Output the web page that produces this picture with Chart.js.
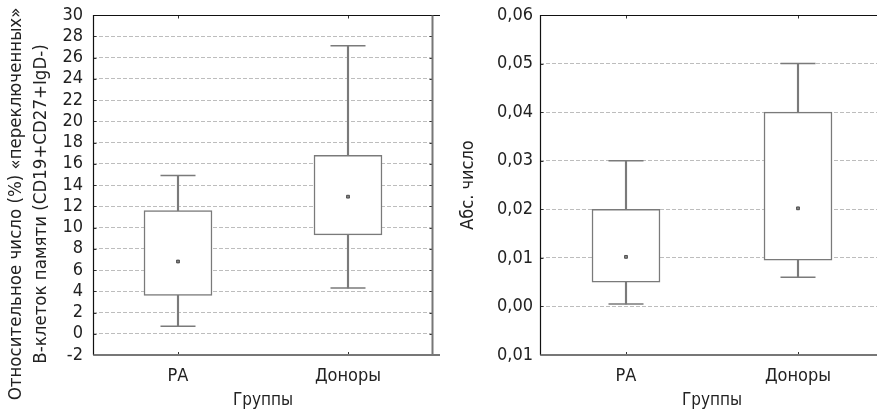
<!DOCTYPE html>
<html>
<head>
<meta charset="utf-8">
<script src="https://cdn.jsdelivr.net/npm/chart.js@4.4.0/dist/chart.umd.min.js"></script>
<style>
  html, body { margin: 0; padding: 0; background: #fff; overflow: hidden; width: 877px; height: 412px; }
  #left { position: absolute; left: 0; top: 0; }
  #right { position: absolute; left: 440px; top: 0; }
</style>
</head>
<body>
<canvas id="left" width="440" height="412" style="width:440px;height:412px"></canvas>
<canvas id="right" width="450" height="412" style="width:450px;height:412px"></canvas>
<script>
var groups = ['РА', 'Доноры'];

// relative number (%) of switched memory B cells
var relMin  = [0.7, 4.3];
var relQ1   = [3.6, 9.3];
var relMean = [6.8, 12.9];
var relQ3   = [11.6, 16.8];
var relMax  = [14.9, 27.1];
var relTickLabels = ['-2','0','2','4','6','8','10','12','14','16','18','20','22','24','26','28','30'];
var relTitle = ['Относительное число (%) «переключенных»', 'В-клеток памяти (CD19+CD27+IgD-)'];

// absolute number
var absMin  = [0.0005, 0.006];
var absQ1   = [0.005, 0.0095];
var absMean = [0.0102, 0.0202];
var absQ3   = [0.02, 0.04];
var absMax  = [0.03, 0.05];
var absTickLabels = ['0,01','0,00','0,01','0,02','0,03','0,04','0,05','0,06'];
var absTitle = 'Абс. число';

var FONT = "'Liberation Sans Narrow', 'DejaVu Sans Condensed', sans-serif";
var TEXT = '#222';
var LINE = '#7a7a7a';
var NONE = 'rgba(0,0,0,0)';

var framePlugin = {
  id: 'frame',
  afterDraw: function(chart, args, opts) {
    var a = chart.chartArea, ctx = chart.ctx;
    var l = Math.round(a.left) + 0.5, r = Math.round(a.right) - 0.5;
    var t = Math.round(a.top) + 0.5, b = Math.round(a.bottom);
    ctx.save();
    // small inward tick marks
    ctx.strokeStyle = '#333';
    ctx.lineWidth = 1;
    var y = chart.scales.y;
    y.ticks.forEach(function(tk, i) {
      var py = Math.round(y.getPixelForTick(i)) + 0.5;
      ctx.beginPath();
      ctx.moveTo(l, py); ctx.lineTo(l + 3, py);
      if (opts.right) { ctx.moveTo(r, py); ctx.lineTo(r - 3, py); }
      ctx.stroke();
    });
    var x = chart.scales.x;
    x.ticks.forEach(function(tk, i) {
      var px = Math.round(x.getPixelForTick(i)) + 0.5;
      ctx.beginPath();
      ctx.moveTo(px, t); ctx.lineTo(px, t + 3);
      ctx.moveTo(px, b); ctx.lineTo(px, b - 3);
      ctx.stroke();
    });
    // top and left borders
    ctx.strokeStyle = '#111';
    ctx.lineWidth = 1.2;
    ctx.beginPath();
    ctx.moveTo(l, b); ctx.lineTo(l, t); ctx.lineTo(a.right + 8, t);
    ctx.stroke();
    // bottom and right borders
    ctx.strokeStyle = '#777';
    ctx.lineWidth = 2;
    ctx.beginPath();
    ctx.moveTo(l, b); ctx.lineTo(a.right + 8, b);
    if (opts.right) { ctx.moveTo(r, t); ctx.lineTo(r, b); }
    ctx.stroke();

    // two-line side title, a bit below the plot centre as in the original
    if (opts.sideTitle) {
      ctx.fillStyle = TEXT;
      ctx.font = opts.sideSize + 'px ' + FONT;
      ctx.textAlign = 'center';
      ctx.textBaseline = 'middle';
      opts.sideTitle.forEach(function(line, i) {
        ctx.save();
        ctx.translate(opts.sideX[i], opts.sideY);
        ctx.rotate(-Math.PI / 2);
        ctx.fillText(line, 0, 0);
        ctx.restore();
      });
    }
    ctx.restore();
  }
};

function boxDatasets(mins, q1, means, q3, maxs, capRadius) {
  return [
    {
      type: 'bar',
      data: q1.map(function(v, i) { return [v, q3[i]]; }),
      backgroundColor: '#fff',
      borderColor: LINE,
      borderWidth: 1.5,
      borderSkipped: false,
      barThickness: 68,
      grouped: false,
      order: 1
    },
    {
      type: 'bar',
      data: mins.map(function(v, i) { return [v, maxs[i]]; }),
      backgroundColor: LINE,
      borderWidth: 0,
      barThickness: 1.5,
      grouped: false,
      order: 2
    },
    {
      type: 'line',
      data: mins,
      showLine: false,
      pointStyle: 'line',
      pointRadius: capRadius,
      pointBorderColor: LINE,
      pointBorderWidth: 1.5,
      order: 0
    },
    {
      type: 'line',
      data: maxs,
      showLine: false,
      pointStyle: 'line',
      pointRadius: capRadius,
      pointBorderColor: LINE,
      pointBorderWidth: 1.5,
      order: 0
    },
    {
      type: 'line',
      data: means,
      showLine: false,
      pointStyle: 'rect',
      pointRadius: 2,
      pointBackgroundColor: '#888',
      pointBorderColor: '#333',
      pointBorderWidth: 0.8,
      order: 0
    }
  ];
}

function makeChart(id, datasets, yOpts) {
  var nTicks = yOpts.labels.length;
  return new Chart(document.getElementById(id), {
    type: 'bar',
    data: { labels: groups, datasets: datasets },
    plugins: [framePlugin],
    options: {
      responsive: false,
      animation: false,
      events: [],
      // the wide cap points would otherwise add automatic padding
      layout: { autoPadding: false, padding: yOpts.padding },
      plugins: {
        legend: { display: false },
        tooltip: { enabled: false },
        frame: yOpts.frame
      },
      scales: {
        x: {
          grid: { display: false, drawTicks: true, tickLength: 11, tickColor: NONE },
          border: { display: false },
          ticks: { color: TEXT, padding: 0, font: { family: FONT, size: 18 } },
          title: {
            display: true, text: 'Группы', color: TEXT,
            font: { family: FONT, size: 17, lineHeight: 1.25 },
            padding: { top: 0, bottom: 1 }
          },
          afterFit: function(s) { s.height = 57; }
        },
        y: {
          min: yOpts.min,
          max: yOpts.max,
          grid: {
            drawTicks: true,
            tickLength: yOpts.tickPad,
            tickColor: NONE,
            lineWidth: 1,
            color: function(c) {
              return (c.index === 0 || c.index === nTicks - 1) ? NONE : '#bdbdbd';
            }
          },
          border: { display: false, dash: [4, 2] },
          ticks: {
            stepSize: yOpts.step,
            autoSkip: false,
            padding: 0,
            color: TEXT,
            font: { family: FONT, size: 18 },
            callback: function(v, i) { return yOpts.labels[i]; }
          },
          title: {
            display: !!yOpts.title, text: yOpts.title || '', color: TEXT,
            font: { family: FONT, size: 18, lineHeight: 1.3 },
            padding: { top: yOpts.titlePad, bottom: 0 }
          },
          afterFit: function(s) { s.width = yOpts.width; }
        }
      }
    }
  });
}

makeChart('left',
  boxDatasets(relMin, relQ1, relMean, relQ3, relMax, 17.5),
  {
    min: -2, max: 30, step: 2, labels: relTickLabels,
    title: null,
    width: 93, tickPad: 10, titlePad: 0,
    frame: { right: true, sideTitle: relTitle, sideX: [16, 41], sideY: 204, sideSize: 18.5 },
    padding: { left: 0, right: 7, top: 15, bottom: 0 }
  });

makeChart('right',
  boxDatasets(absMin, absQ1, absMean, absQ3, absMax, 17.5),
  {
    min: -0.01, max: 0.06, step: 0.01, labels: absTickLabels,
    title: absTitle,
    width: 100, tickPad: 7, titlePad: 17,
    frame: { right: false },
    padding: { left: 0, right: 6, top: 15, bottom: 0 }
  });
</script>
</body>
</html>
